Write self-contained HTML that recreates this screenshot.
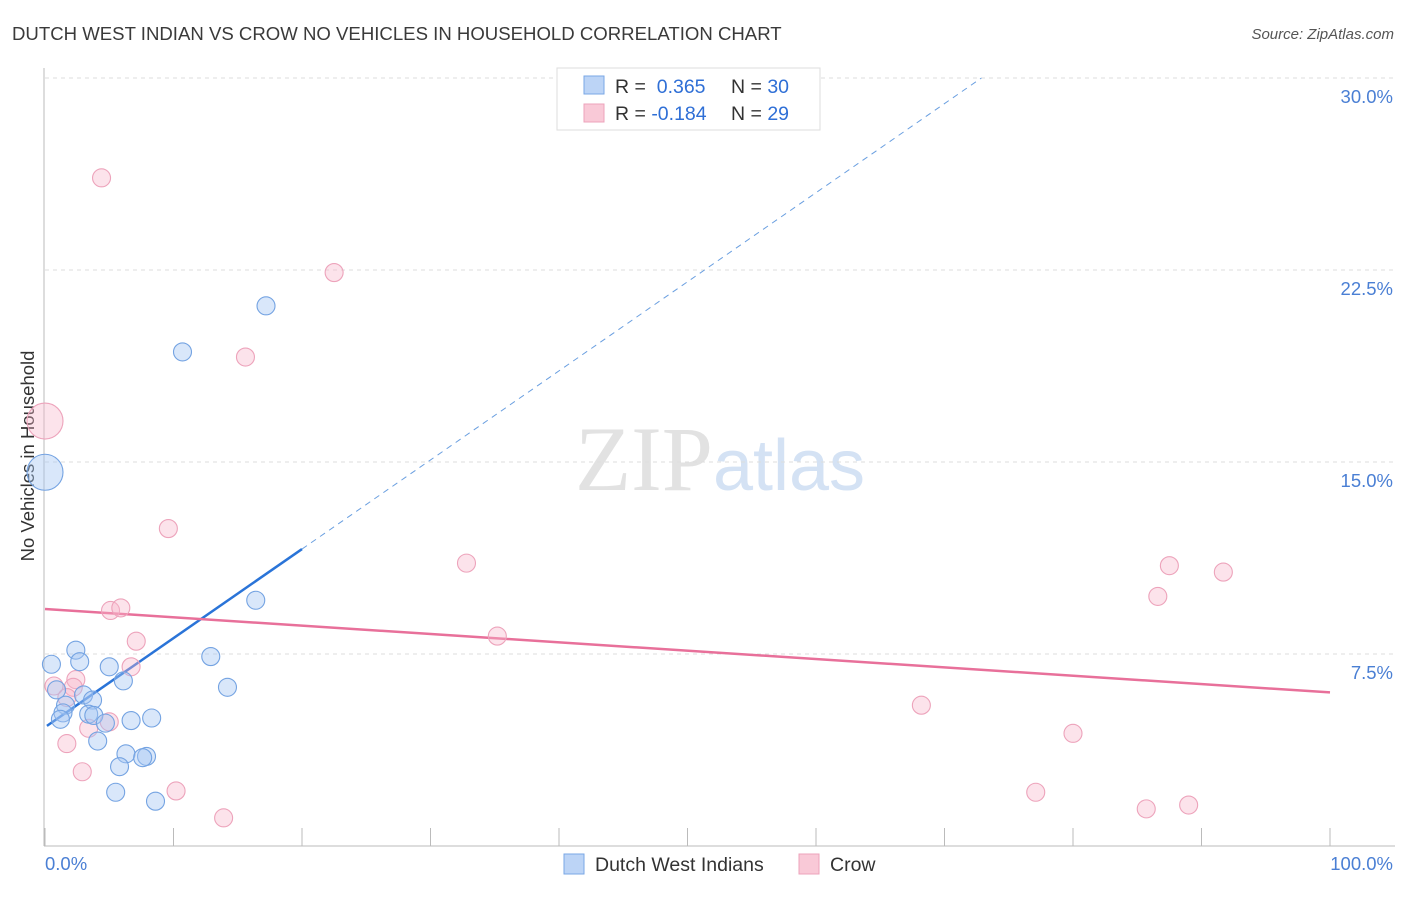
<!DOCTYPE html>
<html><head><meta charset="utf-8"><style>
body{margin:0;background:#fff;font-family:"Liberation Sans",sans-serif;}
</style></head><body>
<svg width="1406" height="892" xmlns="http://www.w3.org/2000/svg" font-family="Liberation Sans, sans-serif">
<text x="12" y="40" font-size="18.6" fill="#3a3a3a">DUTCH WEST INDIAN VS CROW NO VEHICLES IN HOUSEHOLD CORRELATION CHART</text>
<text x="1394" y="39" font-size="15" fill="#555" text-anchor="end" font-style="italic">Source: ZipAtlas.com</text>
<text x="720" y="490" font-size="92" text-anchor="middle" fill="#e2e2e2" font-family="Liberation Serif, serif">ZIP<tspan fill="#d4e2f4" font-family="Liberation Sans, sans-serif" font-size="72">atlas</tspan></text>
<g id="grid"></g>
<line x1="44" y1="68" x2="44" y2="846" stroke="#bbb"/>
<line x1="44" y1="846" x2="1395" y2="846" stroke="#bbb"/>
<g id="ticks"></g>
<text transform="translate(34,456) rotate(-90)" font-size="18.5" fill="#333" text-anchor="middle">No Vehicles in Household</text>
<text x="45" y="870" font-size="18.5" fill="#4a7fd4">0.0%</text>
<text x="1393" y="870" font-size="18.5" fill="#4a7fd4" text-anchor="end">100.0%</text>
<g id="lines"></g>
<g id="points"></g>
<g>
<rect x="557" y="68" width="263" height="62" fill="#fff" stroke="#ddd"/>
<rect x="584" y="76" width="20" height="18" fill="#bcd4f6" stroke="#7aa7e6"/>
<rect x="584" y="104" width="20" height="18" fill="#f9c9d7" stroke="#eda3bb"/>
<text x="615" y="93" font-size="19.5" fill="#333">R = <tspan fill="#2f6fd6">&#160;0.365</tspan><tspan x="731">N = </tspan><tspan fill="#2f6fd6">30</tspan></text>
<text x="615" y="120" font-size="19.5" fill="#333">R = <tspan fill="#2f6fd6">-0.184</tspan><tspan x="731">N = </tspan><tspan fill="#2f6fd6">29</tspan></text>
</g>
<g>
<rect x="564" y="854" width="20" height="20" fill="#bcd4f6" stroke="#7aa7e6"/>
<text x="595" y="871" font-size="19.5" fill="#333">Dutch West Indians</text>
<rect x="799" y="854" width="20" height="20" fill="#f9c9d7" stroke="#eda3bb"/>
<text x="830" y="871" font-size="19.5" fill="#333">Crow</text>
</g>
</svg>
<script>
const yTicks=[7.5,15,22.5,30];
const xTicks=[0,10,20,30,40,50,60,70,80,90,100];
const blueX=[0,10.7,17.2,16.4,0.5,2.4,2.7,5.0,6.1,12.9,14.2,0.9,3.0,3.7,1.6,1.4,3.4,3.8,1.2,6.7,8.3,4.7,4.1,6.3,7.9,7.6,5.8,5.5,8.6];
const blueY=[14.6,19.3,21.1,9.6,7.1,7.65,7.2,7.0,6.45,7.4,6.2,6.1,5.9,5.7,5.5,5.2,5.15,5.1,4.95,4.9,5.0,4.8,4.1,3.6,3.5,3.45,3.1,2.1,1.75];
const blueR=[18,9,9,9,9,9,9,9,9,9,9,9,9,9,9,9,9,9,9,9,9,9,9,9,9,9,9,9,9];
const pinkX=[0,4.4,22.5,15.6,9.6,32.8,35.2,5.1,5.9,7.1,6.7,0.7,2.4,2.2,1.7,5.0,3.4,1.7,2.9,10.2,13.9,68.2,80,77.1,85.7,89,86.6,87.5,91.7];
const pinkY=[16.6,26.1,22.4,19.1,12.4,11.05,8.2,9.2,9.3,8.0,7.0,6.25,6.5,6.2,5.8,4.85,4.6,4.0,2.9,2.15,1.1,5.5,4.4,2.1,1.45,1.6,9.75,10.95,10.7];
const pinkR=[18,9,9,9,9,9,9,9,9,9,9,9,9,9,9,9,9,9,9,9,9,9,9,9,9,9,9,9,9];
const blueTrend=[4.64,0.348];
const pinkTrend=[9.26,-0.0326];
const NS="http://www.w3.org/2000/svg";
const sx=v=>45+v*12.85, sy=v=>846-v*25.6;
function mk(tag,attrs,parent){const e=document.createElementNS(NS,tag);for(const k in attrs)e.setAttribute(k,attrs[k]);document.getElementById(parent).appendChild(e);return e;}
yTicks.forEach(t=>{
 const l=mk('line',{x1:45,x2:1395,y1:sy(t),y2:sy(t),stroke:'#ddd','stroke-dasharray':'4,4'},'grid');
 
 
 const tx=mk('text',{x:1393,y:sy(t)+25,'font-size':18.5,fill:'#4a7fd4','text-anchor':'end'},'grid');
 tx.textContent=t.toFixed(1)+'%';
 
 
});
xTicks.forEach(t=>{
 const l=mk('line',{x1:sx(t),x2:sx(t),y1:828,y2:846,stroke:'#bbb'},'ticks');
 
 
});
const bx2=(30-blueTrend[0])/blueTrend[1];
const b1=mk('line',{x1:sx(0.15),y1:sy(blueTrend[0]+blueTrend[1]*0.15),x2:sx(20),y2:sy(blueTrend[0]+blueTrend[1]*20),stroke:'#2a74d8','stroke-width':2.5},'lines');


const b2=mk('line',{x1:sx(20),y1:sy(blueTrend[0]+blueTrend[1]*20),x2:sx(bx2),y2:sy(30),stroke:'#6a9fe0','stroke-width':1,'stroke-dasharray':'6,5'},'lines');


const p1=mk('line',{x1:sx(0),y1:sy(pinkTrend[0]),x2:sx(100),y2:sy(pinkTrend[0]+pinkTrend[1]*100),stroke:'#e8709a','stroke-width':2.5},'lines');


pinkX.forEach((x,i)=>{
 const c=mk('circle',{cx:sx(x),cy:sy(pinkY[i]),r:pinkR[i],fill:'rgba(246,182,202,0.38)',stroke:'#eda3bb','stroke-width':1.1},'points');
 
 
});
blueX.forEach((x,i)=>{
 const c=mk('circle',{cx:sx(x),cy:sy(blueY[i]),r:blueR[i],fill:'rgba(165,198,242,0.42)',stroke:'#74a3e2','stroke-width':1.1},'points');
 
 
});
</script>
</body></html>
